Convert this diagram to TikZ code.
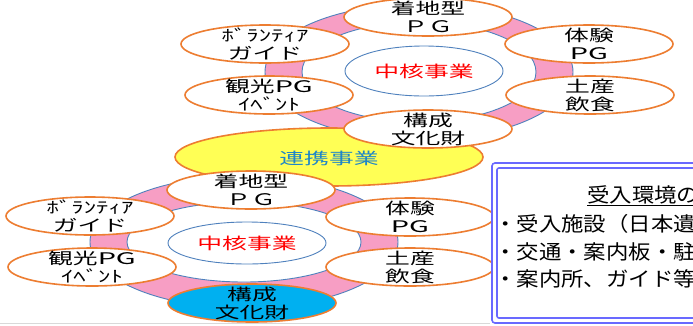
\documentclass[tikz,border=0pt]{standalone}
\usepackage{fontspec}
\usepackage{graphicx}
\newfontfamily\jp{Noto Sans CJK JP}
\usetikzlibrary{shapes.geometric}
\definecolor{ringpink}{RGB}{247,158,196}
\definecolor{ringblue}{RGB}{79,129,189}
\definecolor{nodeorange}{RGB}{237,125,49}
\definecolor{linkyellow}{RGB}{255,255,85}
\definecolor{linktext}{RGB}{30,134,200}
\definecolor{corered}{RGB}{255,0,0}
\definecolor{cyanfill}{RGB}{0,176,240}
\definecolor{frameblue}{RGB}{105,105,255}
\newcommand\sx[1]{\scalebox{1.55}[1]{#1}}
\newcommand\pg{\scalebox{1.8}[1]{PG}}
\newcommand\bx[1]{\scalebox{1.12}[1]{#1}}
\begin{document}
\begin{tikzpicture}[x=1pt,y=-1pt,
  item/.style={ellipse, draw=nodeorange, line width=1.6pt, fill=white, inner sep=0pt, minimum width=168pt, minimum height=38pt},
  core/.style={ellipse, draw=ringblue, line width=0.9pt, fill=white, inner sep=0pt, minimum width=158pt, minimum height=50pt},
  lbl/.style={font=\jp\fontsize{16}{18}\selectfont, align=center, inner sep=0pt, text=black},
  corelbl/.style={font=\jp\fontsize{16}{18}\selectfont, inner sep=0pt, text=corered},
  ringo/.style={fill=ringpink, draw=ringblue, line width=0.9pt},
  ringi/.style={fill=white, draw=ringblue, line width=0.9pt},
  boxtxt/.style={font=\jp\fontsize{20}{20}\selectfont, inner sep=0pt, anchor=west, text=black}
]
\useasboundingbox (0,0) rectangle (693,325);
\begin{scope}
\clip (0,0) rectangle (693,325);
\fill[white] (0,0) rectangle (693,325);
\draw[black!15, line width=0.8pt] (0,323.5) -- (490,323.5);
% ---------- top cluster ----------
\path[ringo] (419,72) ellipse [x radius=154, y radius=68];
\path[ringi] (419,72) ellipse [x radius=117, y radius=50];
\node[core] (tcore) at (424,71) {};
\node[corelbl] (tcoret) at (tcore) {\sx{中核事業}};
\node[item] (tA) at (428,17) {};
\node[lbl] (tAt) at (tA) {\sx{着地型}\\\sx{ＰＧ}};
\node[item] (tB) at (589,44) {};
\node[lbl] (tBt) at (tB) {\sx{体験}\\\pg};
\node[item] (tC) at (590,95) {};
\node[lbl] (tCt) at (tC) {\sx{土産}\\\sx{飲食}};
\node[item] (tE) at (265,44) {};
\node[lbl] (tEt) at (tE) {\sx{ﾎﾞﾗﾝﾃｨｱ}\\\sx{ガイド}};
\node[item] (tF) at (269,95) {};
\node[lbl] (tFt) at (tF) {\sx{観光}\pg\\\sx{ｲﾍﾞﾝﾄ}};
% ---------- bottom ring ----------
\path[ringo] (244,242) ellipse [x radius=154, y radius=66];
\path[ringi] (244,242) ellipse [x radius=117, y radius=40];
% ---------- link ----------
\node[ellipse, draw=nodeorange, line width=1.6pt, fill=linkyellow, inner sep=0pt, minimum width=308pt, minimum height=58pt] (link) at (329,157) {};
\node[font=\jp\fontsize{16}{18}\selectfont, text=linktext, inner sep=0pt] (linkt) at (329,158) {\sx{連携事業}};
\node[item] (tD) at (428,129) {};
\node[lbl] (tDt) at (tD) {\sx{構成}\\\sx{文化財}};
% ---------- bottom cluster ----------
\node[core, minimum height=42pt] (bcore) at (247,243) {};
\node[corelbl] (bcoret) at (bcore) {\sx{中核事業}};
\node[item] (bA) at (251,190) {};
\node[lbl] (bAt) at (bA) {\sx{着地型}\\\sx{ＰＧ}};
\node[item] (bE) at (90,216) {};
\node[lbl] (bEt) at (bE) {\sx{ﾎﾞﾗﾝﾃｨｱ}\\\sx{ガイド}};
\node[item] (bF) at (92,267) {};
\node[lbl] (bFt) at (bF) {\sx{観光}\pg\\\sx{ｲﾍﾞﾝﾄ}};
\node[item] (bB) at (410,217) {};
\node[lbl] (bBt) at (bB) {\sx{体験}\\\pg};
\node[item] (bC) at (410,267) {};
\node[lbl] (bCt) at (bC) {\sx{土産}\\\sx{飲食}};
\node[item, fill=cyanfill] (bD) at (252,303) {};
\node[lbl] (bDt) at (bD) {\sx{構成}\\\sx{文化財}};
% ---------- frame box ----------
\draw[frameblue, line width=1.6pt, fill=white, rounded corners=3pt] (492,163) rectangle (712,323);
\draw[frameblue, line width=1.6pt, rounded corners=2pt] (497,168) rectangle (707,318);
\node[boxtxt] (title) at (587,196) {\bx{\underline{受入環境の}}};
\node[boxtxt] (l1) at (494,224) {\bx{・受入施設（日本遺}};
\node[boxtxt] (l2) at (494,251.5) {\bx{・交通・案内板・駐}};
\node[boxtxt] (l3) at (494,279) {\bx{・案内所、ガイド等}};
\end{scope}
\end{tikzpicture}
\end{document}
